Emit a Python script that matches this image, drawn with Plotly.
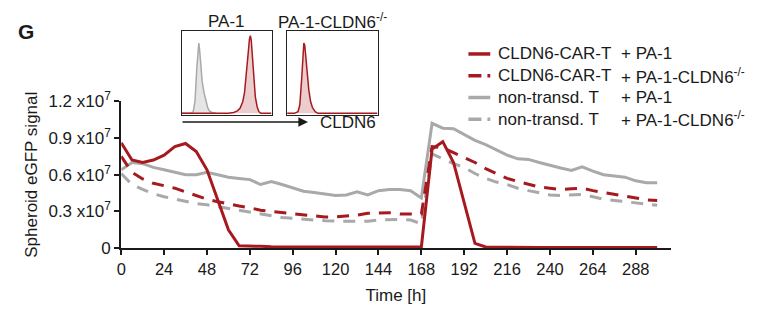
import plotly.graph_objects as go

# Sampling times [h]
time_h = [0, 6, 12, 18, 24, 30, 36, 42, 48, 54, 60, 66, 72, 78, 84, 90, 96, 102,
          108, 114, 120, 126, 132, 138, 144, 150, 156, 162, 168, 174, 180, 186,
          192, 198, 204, 210, 216, 222, 228, 234, 240, 246, 252, 258, 264, 270,
          276, 282, 288, 294, 300]

# Spheroid eGFP signal, in units of 1e7
car_pa1 = [0.86, 0.72, 0.70, 0.72, 0.76, 0.83, 0.855, 0.79, 0.64, 0.40, 0.15, 0.02,
           0.015, 0.015, 0.012, 0.012, 0.01, 0.008, 0.008, 0.008, 0.008, 0.008, 0.008,
           0.008, 0.008, 0.01, 0.01, 0.01, 0.01, 0.81, 0.87, 0.70, 0.36, 0.04, 0.01,
           0.008, 0.006, 0.006, 0.006, 0.006, 0.006, 0.006, 0.006, 0.006, 0.006,
           0.006, 0.006, 0.006, 0.006, 0.006, 0.006]
car_ko = [0.75, 0.62, 0.565, 0.53, 0.51, 0.49, 0.46, 0.43, 0.40, 0.38, 0.36, 0.345,
          0.33, 0.31, 0.30, 0.29, 0.28, 0.27, 0.26, 0.255, 0.255, 0.26, 0.27, 0.285,
          0.29, 0.29, 0.28, 0.28, 0.28, 0.83, 0.82, 0.78, 0.74, 0.70, 0.65, 0.61,
          0.57, 0.545, 0.52, 0.50, 0.49, 0.48, 0.485, 0.49, 0.47, 0.455, 0.445,
          0.43, 0.41, 0.395, 0.39]
ntd_pa1 = [0.64, 0.70, 0.69, 0.66, 0.64, 0.62, 0.60, 0.60, 0.62, 0.60, 0.58, 0.57,
           0.56, 0.52, 0.545, 0.52, 0.49, 0.465, 0.455, 0.445, 0.43, 0.435, 0.46,
           0.435, 0.47, 0.48, 0.48, 0.47, 0.41, 1.02, 0.98, 0.975, 0.93, 0.88, 0.845,
           0.80, 0.76, 0.73, 0.725, 0.70, 0.675, 0.655, 0.635, 0.665, 0.63, 0.60,
           0.59, 0.58, 0.55, 0.535, 0.535]
ntd_ko = [0.61, 0.52, 0.48, 0.445, 0.42, 0.40, 0.385, 0.365, 0.355, 0.34, 0.32,
          0.305, 0.29, 0.275, 0.26, 0.25, 0.245, 0.235, 0.23, 0.225, 0.22, 0.22,
          0.22, 0.22, 0.23, 0.235, 0.235, 0.23, 0.20, 0.77, 0.73, 0.69, 0.66, 0.61,
          0.57, 0.54, 0.52, 0.49, 0.47, 0.45, 0.435, 0.43, 0.435, 0.44, 0.42, 0.40,
          0.39, 0.38, 0.37, 0.355, 0.35]

effectors = ["CLDN6-CAR-T", "CLDN6-CAR-T", "non-transd. T", "non-transd. T"]
targets = ["+ PA-1", "+ PA-1-CLDN6<sup>-/-</sup>", "+ PA-1", "+ PA-1-CLDN6<sup>-/-</sup>"]

x_ticks = [0, 24, 48, 72, 96, 120, 144, 168, 192, 216, 240, 264, 288]
y_ticks = [0, 0.3, 0.6, 0.9, 1.2]
y_ticktext = ["0", "0.3 x10<sup>7</sup>", "0.6 x10<sup>7</sup>",
              "0.9 x10<sup>7</sup>", "1.2 x10<sup>7</sup>"]

# Flow cytometry histograms (CLDN6 staining, relative intensity / normalized count)
hist_ctrl_x = [0, 10, 13, 15, 17, 18.5, 19.2, 20, 21.5, 23, 25, 27, 29, 31, 34, 38]
hist_ctrl_y = [0, 0, 0.02, 0.15, 0.55, 0.80, 0.85, 0.78, 0.55, 0.38, 0.25, 0.14, 0.07, 0.03, 0.01, 0]
hist_pa1_x = [0, 52, 58, 62, 65, 68, 70, 72, 74, 75.5, 76.5, 77.5, 79, 80.5, 82, 84, 86, 88, 100]
hist_pa1_y = [0, 0, 0.01, 0.03, 0.06, 0.14, 0.25, 0.45, 0.72, 0.90, 0.94, 0.88, 0.65, 0.40, 0.20, 0.08, 0.02, 0, 0]
hist_ko_x = [0, 8, 12, 14, 16, 17.5, 18.5, 19.5, 20.5, 22, 24, 26, 28, 31, 34, 100]
hist_ko_y = [0, 0, 0.02, 0.10, 0.40, 0.75, 0.85, 0.82, 0.70, 0.48, 0.28, 0.14, 0.07, 0.02, 0, 0]

RED = "#A61A1F"
GRAY = "#A9A9A9"
RED_FILL = "rgba(166,26,31,0.22)"
GRAY_FILL = "rgba(160,160,160,0.28)"
DASH = "12px,9px"
FONT = "Liberation Sans, Arial, sans-serif"
TXT = "#1a1a1a"
W, H = 758, 326

fig = go.Figure()

series = [
    (ntd_ko, GRAY, DASH),
    (ntd_pa1, GRAY, "solid"),
    (car_ko, RED, DASH),
    (car_pa1, RED, "solid"),
]
for vals, col, dash in series:
    fig.add_trace(go.Scatter(x=time_h, y=vals, mode="lines",
                             line=dict(color=col, width=3, dash=dash),
                             showlegend=False, hoverinfo="skip"))

# Inset histograms
fig.add_trace(go.Scatter(x=hist_ctrl_x, y=hist_ctrl_y, mode="lines", fill="tozeroy",
                         fillcolor=GRAY_FILL, line=dict(color=GRAY, width=1.5),
                         xaxis="x2", yaxis="y2", showlegend=False, hoverinfo="skip"))
fig.add_trace(go.Scatter(x=hist_pa1_x, y=hist_pa1_y, mode="lines", fill="tozeroy",
                         fillcolor=RED_FILL, line=dict(color=RED, width=1.5),
                         xaxis="x2", yaxis="y2", showlegend=False, hoverinfo="skip"))
fig.add_trace(go.Scatter(x=hist_ko_x, y=hist_ko_y, mode="lines", fill="tozeroy",
                         fillcolor=RED_FILL, line=dict(color=RED, width=1.5),
                         xaxis="x3", yaxis="y3", showlegend=False, hoverinfo="skip"))

px = lambda v: v / W
py = lambda v: 1 - v / H

inset_axis = dict(range=[0, 100], showline=True, mirror=True, linecolor="#222",
                  linewidth=1.3, showticklabels=False, ticks="", showgrid=False,
                  zeroline=False, fixedrange=True)
inset_yaxis = dict(inset_axis, range=[-0.015, 1.0])

fig.update_layout(
    width=W, height=H,
    margin=dict(l=0, r=0, t=0, b=0),
    paper_bgcolor="white", plot_bgcolor="white",
    font=dict(family=FONT, color=TXT, size=17),
    xaxis=dict(domain=[px(117), px(670)], range=[0, 307.5], tickvals=x_ticks,
               showline=True, linecolor=TXT, linewidth=2, ticks="outside",
               ticklen=5, tickwidth=2, tickcolor=TXT, showgrid=False, zeroline=False,
               tickfont=dict(size=16.5), title=dict(text="Time [h]", standoff=12,
                                                     font=dict(size=17))),
    yaxis=dict(domain=[1 - 253.3 / H, 1 - 95.7 / H], range=[0, 1.2],
               tickvals=y_ticks, ticktext=y_ticktext, showline=True, linecolor=TXT,
               linewidth=2, ticks="outside", ticklen=5, tickwidth=2, tickcolor=TXT,
               showgrid=False, zeroline=False, tickfont=dict(size=17),
               title=dict(text="Spheroid eGFP signal", standoff=6,
                          font=dict(size=17))),
    xaxis2=dict(inset_axis, domain=[px(177.7), px(268.3)], anchor="y2"),
    yaxis2=dict(inset_yaxis, domain=[py(110), py(20)], anchor="x2"),
    xaxis3=dict(inset_axis, domain=[px(284), px(375)], anchor="y3"),
    yaxis3=dict(inset_yaxis, domain=[py(110), py(20)], anchor="x3"),
)

ann = []
ann.append(dict(x=px(21), y=py(21), text="<b>G</b>", showarrow=False,
                font=dict(size=21), xanchor="center", yanchor="middle"))
ann.append(dict(x=px(223), y=py(10), text="PA-1", showarrow=False,
                xanchor="center", yanchor="middle"))
ann.append(dict(x=px(329.5), y=py(10), text="PA-1-CLDN6<sup>-/-</sup>",
                showarrow=False, xanchor="center", yanchor="middle"))
ann.append(dict(x=px(305), y=py(118), ax=-127, ay=0, text="", showarrow=True,
                arrowhead=2, arrowsize=1.2, arrowwidth=1.6, arrowcolor=TXT,
                xref="paper", yref="paper"))
ann.append(dict(x=px(315), y=py(118), text="CLDN6", showarrow=False,
                xanchor="left", yanchor="middle"))

# Legend rows
row_y = [45, 68.3, 91.7, 115]
legend_style = [(RED, "solid"), (RED, "13px,6px"), (GRAY, "solid"), (GRAY, "13px,6px")]
shapes = []
for i, (eff, tgt) in enumerate(zip(effectors, targets)):
    col, dash = legend_style[i]
    shapes.append(dict(type="line", xref="paper", yref="paper",
                       x0=px(466.5), x1=px(488.5), y0=py(row_y[i]), y1=py(row_y[i]),
                       line=dict(color=col, width=3.5, dash=dash)))
    ann.append(dict(x=px(494), y=py(row_y[i]), text=eff, showarrow=False,
                    xanchor="left", yanchor="middle"))
    ann.append(dict(x=px(618), y=py(row_y[i]), text=tgt, showarrow=False,
                    xanchor="left", yanchor="middle"))

for a in ann:
    a.setdefault("xref", "paper")
    a.setdefault("yref", "paper")
fig.update_layout(annotations=ann, shapes=shapes)

fig.write_html("out.html", post_script="document.body.style.margin='0';")
